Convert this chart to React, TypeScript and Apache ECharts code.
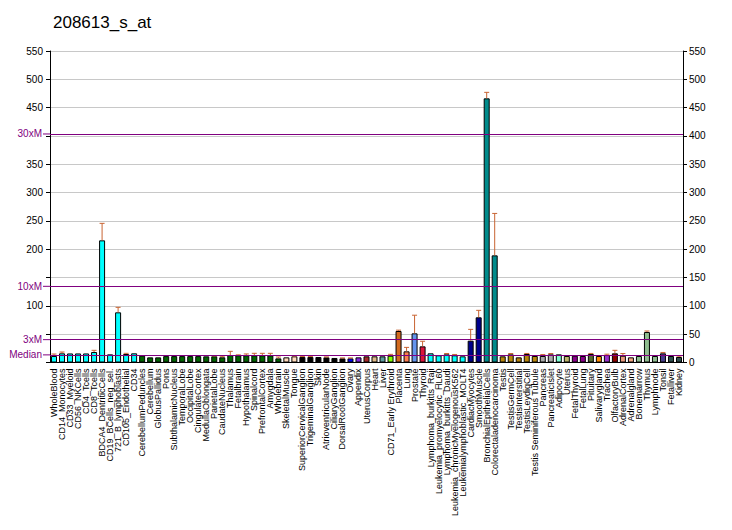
import React, { useEffect, useRef } from "react";
import * as echarts from "echarts";

const title = "208613_s_at";

const categories = [
  "WholeBlood", "CD14_Monocytes", "CD33_Myeloid", "CD56_NKCells", "CD4_Tcells", "CD8_Tcells",
  "BDCA4_DentriticCells", "CD19_BCells_neg_sel.", "721_B_lymphoblasts", "CD105_Endothelial", "CD34",
  "CerebellumPeduncles", "Cerebellum", "GlobusPallidus", "Pons", "SubthalamicNucleus", "TemporalLobe",
  "OccipitalLobe", "CingulateCortex", "MedullaOblongata", "ParietalLobe", "CaudateNucleus", "Thalamus",
  "Fetalbrain", "Hypothalamus", "Spinalcord", "PrefrontalCortex", "Amygdala", "Wholebrain",
  "SkeletalMuscle", "Tongue", "SuperiorCervicalGanglion", "TrigeminalGanglion", "Skin",
  "AtrioventricularNode", "CiliaryGanglion", "DorsalRootGanglion", "Ovary", "Appendix", "UterusCorpus",
  "Heart", "Liver", "CD71_Early Erythroid", "Placenta", "Lung", "Prostate", "Thyroid",
  "Lymphoma_burkitts_Raji", "Leukemia_promyelocytic_HL60", "Lymphoma_burkitts_Daudi",
  "Leukemia_chronicMyelogenousK562", "Leukemialymphoblastic_MOLT4", "CardiacMyocytes", "SmoothMuscle",
  "BronchialEpithelialCells", "Colorectaladenocarcinoma", "Testis", "TestisGermCell", "TestisInterstitial",
  "TestisLeydigCell", "Testis Seminiferous Tubule", "Pancreas", "PancreaticIslet", "Adipocyte", "Uterus",
  "FetalThyroid", "FetalLung", "Pituitary", "Salivarygland", "Trachea", "OlfactoryBulb", "AdrenalCortex",
  "Adrenalgland", "Bonemarrow", "Thymus", "Lymphnode", "Tonsil", "Fetalliver", "Kidney",
];

const values = [
  11.5, 16.2, 16, 16, 16, 18.5, 215.7, 14.4, 88.6, 15, 16.2,
  12, 9.1, 9.1, 11.3, 11.3, 11.3, 11.3, 11.3, 10.9, 11, 9.2, 13.2, 12.7, 12.7, 12.7, 12.7, 12.7, 7.3,
  9.1, 10.9, 9.7, 9.7, 9.7, 9.1, 8, 7.3, 7.3, 9.1, 10.9, 10.9, 10.9, 12, 55.6, 19.7, 51.5, 28.5,
  16.2, 12.7, 14.4, 12.7, 10.9, 38.5, 79.8, 466.4, 189.2,
  10.9, 14.4, 9.1, 15, 11.5, 11.5, 14.4, 14.4, 11.5, 12, 11.5, 15, 11.5, 13.2, 16.2, 12, 9.1, 11.5,
  53.8, 11.5, 16.2, 11.5, 9.7,
];

const errors = [
  3.5, 2.3, 0, 0, 0, 3, 30, 0, 8.8, 1.2, 0,
  0, 0, 0, 0, 0, 0, 0, 0, 0, 0.8, 1.8, 6.5, 0.8, 2.4, 3.5, 3.5, 3.5, 2.4,
  0, 0.8, 0.8, 0.8, 0, 0.8, 0, 0.8, 0.8, 0, 0, 0, 0, 2.4, 1.5, 7, 32, 9,
  0, 0, 1.5, 1.5, 0, 20, 12.3, 10.6, 74,
  0, 1.5, 0, 1, 0, 2.5, 1.5, 0, 0, 0, 0, 1, 0, 1.5, 5.3, 3.8, 0, 0,
  1.8, 0, 1.5, 0, 1.5,
];

const barColors = [
  ...Array(11).fill("#00FFFF"),
  ...Array(18).fill("#006400"),
  "#FFDAB9", "#FFDAB9",
  ...Array(6).fill("#000000"),
  "#0000FF", "#8A2BE2", "#A52A2A", "#DEB887", "#5F9EA0", "#7FFF00", "#D2691E", "#FF7F50", "#6495ED", "#DC143C",
  ...Array(5).fill("#00FFFF"),
  "#00008B", "#00008B",
  "#008B8B", "#008B8B",
  ...Array(5).fill("#B8860B"),
  "#A9A9A9", "#A9A9A9",
  "#7FFFD4", "#BDB76B", "#8B008B", "#8B008B", "#556B2F", "#FF8C00", "#9932CC", "#8B0000", "#E9967A", "#F4A582",
  "#8FBC8F", "#8FBC8F", "#8FBC8F",
  "#483D8B", "#2F4F4F", "#2F4F4F",
];

const median = 13.45;
const thresholdLabels = ["Median", "3xM", "10xM", "30xM"];
const thresholdFactors = [1, 3, 10, 30];

const hiddenLeftLabels = [0, 50, 150, 400];

const FONT = "'Liberation Sans', Arial, sans-serif";
const PURPLE = "#800080";

export default function App() {
  const ref = useRef<HTMLDivElement>(null);

  useEffect(() => {
    if (!ref.current) return;
    const chart = echarts.init(ref.current, null, { renderer: "svg" });

    const thresholdValues = thresholdFactors.map((f) => median * f);
    const thresholdData = thresholdValues.map((v, i) => [0, v, i]);

    chart.setOption({
      animation: false,
      backgroundColor: "#FFFFFF",
      title: {
        text: title,
        left: 48,
        top: 9,
        textStyle: { fontFamily: FONT, fontSize: 17, fontWeight: "normal", color: "#000" },
      },
      grid: { left: 50, right: 49, top: 51, bottom: 167.5, containLabel: false },
      xAxis: {
        type: "category",
        data: categories,
        axisLine: { lineStyle: { color: "#000", width: 1 } },
        axisTick: { alignWithLabel: true, length: 5, lineStyle: { color: "#000" } },
        axisLabel: {
          rotate: 90,
          interval: 0,
          margin: 6,
          fontFamily: FONT,
          fontSize: 9,
          color: "#000",
        },
        splitLine: { show: false },
      },
      yAxis: [
        {
          type: "value",
          min: 0,
          max: 550,
          interval: 50,
          position: "left",
          axisLine: { show: true, lineStyle: { color: "#000" } },
          axisTick: { show: true, length: 4, lineStyle: { color: "#000" } },
          axisLabel: {
            fontFamily: FONT,
            fontSize: 10,
            color: "#000",
            margin: 7,
            formatter: (v: number) => (hiddenLeftLabels.includes(v) ? "" : String(v)),
          },
          splitLine: { show: true, lineStyle: { color: "#C8C8C8", width: 1 } },
        },
        {
          type: "value",
          min: 0,
          max: 550,
          interval: 50,
          position: "right",
          axisLine: { show: true, lineStyle: { color: "#000" } },
          axisTick: { show: true, length: 4, lineStyle: { color: "#000" } },
          axisLabel: { fontFamily: FONT, fontSize: 10, color: "#000", margin: 6 },
          splitLine: { show: false },
        },
      ],
      series: [
        {
          type: "bar",
          yAxisIndex: 0,
          barWidth: 6,
          data: values.map((v, i) => ({
            value: v,
            itemStyle: { color: barColors[i], borderColor: "#000", borderWidth: 1 },
          })),
          z: 2,
          markLine: {
            silent: true,
            symbol: ["none", "none"],
            z: 10,
            label: { show: false },
            lineStyle: { color: PURPLE, type: "solid", width: 1, opacity: 1 },
            data: thresholdValues.map((v) => ({ yAxis: v })),
          },
        },
        {
          type: "custom",
          yAxisIndex: 0,
          z: 3,
          data: values.map((v, i) => [i, v, errors[i]]),
          renderItem: (params: any, api: any) => {
            const err = api.value(2);
            if (!err) return null;
            const i = api.value(0);
            const v = api.value(1);
            const base = api.coord([i, v]);
            const top = api.coord([i, v + err]);
            const style = { stroke: "#C86432", lineWidth: 1 };
            return {
              type: "group",
              children: [
                { type: "line", shape: { x1: base[0], y1: base[1], x2: top[0], y2: top[1] }, style },
                { type: "line", shape: { x1: top[0] - 2.5, y1: top[1], x2: top[0] + 2.5, y2: top[1] }, style },
              ],
            };
          },
        },
        {
          type: "custom",
          yAxisIndex: 0,
          z: 4,
          clip: false,
          data: thresholdData,
          renderItem: (params: any, api: any) => {
            const cs = params.coordSys;
            const y = api.coord([0, api.value(1)])[1];
            const label = thresholdLabels[params.dataIndex];
            return {
              type: "group",
              children: [
                {
                  type: "line",
                  shape: { x1: cs.x - 7, y1: y, x2: cs.x, y2: y },
                  style: { stroke: PURPLE, lineWidth: 1 },
                },
                {
                  type: "text",
                  x: cs.x - 8,
                  y: y,
                  style: {
                    text: label,
                    fill: PURPLE,
                    font: `10px ${FONT}`,
                    align: "right",
                    verticalAlign: "middle",
                  },
                },
              ],
            };
          },
        },
      ],
    });

    return () => chart.dispose();
  }, []);

  return <div ref={ref} style={{ width: 732, height: 530, position: "absolute", left: 0, top: 0 }} />;
}
